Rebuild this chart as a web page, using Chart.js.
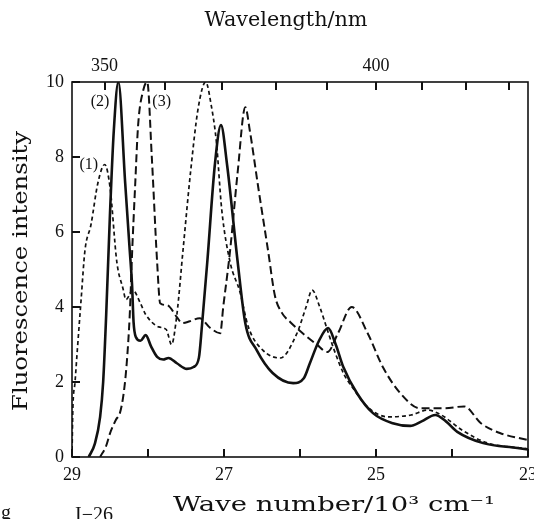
<!DOCTYPE html>
<html>
<head>
<meta charset="utf-8">
<script src="https://cdn.jsdelivr.net/npm/chart.js@4/dist/chart.umd.min.js"></script>
<style>
  body { margin: 0; background: #fff; }
  canvas { display: block; }
</style>
</head>
<body>
<canvas id="fluo" width="534" height="519"></canvas>
<script>
// wave numbers (10^3 cm^-1) and intensities
var wn1 = [29.0, 28.99, 28.96, 28.93, 28.88, 28.83, 28.75, 28.66, 28.57, 28.5, 28.41, 28.33, 28.29, 28.2, 28.1, 28.03, 27.86, 27.76, 27.69, 27.62, 27.54, 27.44, 27.34, 27.24, 27.17, 27.1, 27.03, 26.92, 26.79, 26.68, 26.49, 26.26, 26.04, 25.92, 25.84, 25.74, 25.64, 25.55, 25.42, 25.29, 25.11, 24.84, 24.54, 24.32, 24.14, 23.87, 23.53, 23.08, 23.0];
var int1 = [0, 1.2, 2.0, 2.85, 4.2, 5.5, 6.2, 7.3, 7.8, 7.2, 5.2, 4.5, 4.2, 4.45, 4.1, 3.8, 3.47, 3.4, 3.0, 3.8, 5.5, 7.6, 9.3, 10, 9.4, 8.4, 6.6, 5.2, 4.4, 3.47, 2.85, 2.64, 3.3, 4.0, 4.45, 4.0, 3.39, 2.85, 2.2, 1.8, 1.33, 1.07, 1.12, 1.25, 1.12, 0.72, 0.37, 0.24, 0.22];

var wn2 = [28.78, 28.7, 28.63, 28.59, 28.55, 28.5, 28.45, 28.39, 28.3, 28.24, 28.21, 28.19, 28.16, 28.1, 28.03, 27.96, 27.88, 27.8, 27.73, 27.62, 27.49, 27.4, 27.33, 27.29, 27.22, 27.12, 27.04, 26.96, 26.82, 26.72, 26.57, 26.36, 26.09, 25.95, 25.87, 25.75, 25.63, 25.53, 25.43, 25.25, 25.04, 24.78, 24.55, 24.4, 24.22, 24.08, 23.93, 23.59, 23.14, 23.0];
var int2 = [0, 0.35, 1.07, 2.0, 3.8, 6.5, 8.7, 10, 7.3, 5.5, 4.6, 3.6, 3.2, 3.1, 3.25, 2.95, 2.67, 2.6, 2.64, 2.5, 2.35, 2.4, 2.65, 3.5, 5.2, 7.8, 8.85, 7.8, 5.2, 3.57, 2.85, 2.24, 1.97, 2.1, 2.5, 3.1, 3.44, 3.0, 2.4, 1.7, 1.17, 0.9, 0.83, 0.95, 1.12, 0.95, 0.67, 0.37, 0.24, 0.2];

var wn3 = [28.63, 28.55, 28.5, 28.42, 28.37, 28.32, 28.28, 28.24, 28.21, 28.17, 28.13, 28.06, 28.01, 27.95, 27.88, 27.84, 27.75, 27.62, 27.55, 27.45, 27.32, 27.18, 27.05, 27.01, 26.92, 26.82, 26.72, 26.66, 26.55, 26.42, 26.33, 26.24, 26.13, 25.78, 25.64, 25.5, 25.32, 25.11, 24.91, 24.68, 24.42, 24.1, 23.84, 23.62, 23.37, 23.0];
var int3 = [0, 0.3, 0.63, 1.0, 1.17, 1.7, 2.5, 3.8, 5.4, 7.2, 8.85, 9.8, 10, 8.0, 5.2, 4.1, 4.05, 3.73, 3.57, 3.62, 3.7, 3.44, 3.3, 4.0, 5.5, 7.6, 9.33, 8.7, 7.2, 5.5, 4.3, 3.85, 3.6, 3.0, 2.8, 3.3, 4.0, 3.3, 2.4, 1.7, 1.3, 1.3, 1.35, 0.9, 0.64, 0.45];

// axis ticks
var xTicks = [29, 28, 27, 26, 25, 24, 23];
var xTickLabels = [29, 27, 25, 23];
var yTicks = [0, 2, 4, 6, 8, 10];
var wavelengthTicks = [350, 360, 370, 380, 390, 400, 410, 420, 430];
var wavelengthLabels = [350, 400];

// curve tags: [text, wave number, intensity]
var curveTags = [["(1)", 28.78, 7.8], ["(2)", 28.63, 9.47], ["(3)", 27.82, 9.47]];

function pts(xs, ys) {
    return xs.map(function (x, i) { return { x: x, y: ys[i] }; });
}

var serif = '"Liberation Serif", "Times New Roman", serif';
var wideSerif = '"DejaVu Serif", serif';
var tickFont = { family: serif, size: 18 };

// draw text at a given size, stretched sideways to the wanted width
function wideText(ctx, text, x, y, width, size, angle) {
    ctx.save();
    ctx.font = size + 'px ' + wideSerif;
    var sx = width / ctx.measureText(text).width;
    ctx.translate(x, y);
    ctx.rotate(angle || 0);
    ctx.scale(sx, 1);
    ctx.fillText(text, 0, 0);
    ctx.restore();
}

var decor = {
    id: 'decor',
    afterDraw: function (chart) {
        var ctx = chart.ctx, a = chart.chartArea, s = chart.scales;
        ctx.save();
        ctx.strokeStyle = '#111';
        ctx.lineWidth = 1.6;
        ctx.strokeRect(a.left, a.top, a.right - a.left, a.bottom - a.top);

        // inward tick marks
        ctx.lineWidth = 2;
        ctx.beginPath();
        xTicks.forEach(function (v) {
            var p = Math.round(s.x.getPixelForValue(v));
            ctx.moveTo(p, a.bottom); ctx.lineTo(p, a.bottom - 8);
        });
        wavelengthTicks.forEach(function (l) {
            var p = Math.round(s.x2.getPixelForValue(1e4 / l));
            ctx.moveTo(p, a.top); ctx.lineTo(p, a.top + 8);
        });
        yTicks.forEach(function (v) {
            var p = Math.round(s.y.getPixelForValue(v));
            ctx.moveTo(a.left, p); ctx.lineTo(a.left + 8, p);
        });
        ctx.stroke();

        ctx.fillStyle = '#111';
        ctx.textAlign = 'center';
        ctx.textBaseline = 'middle';

        // axis titles
        wideText(ctx, 'Wavelength/nm', 286, 21, 163, 20);
        wideText(ctx, 'Wave number/10\u00b3 cm\u207b\u00b9', 334, 506, 322, 21);
        wideText(ctx, 'Fluorescence intensity', 22, 271, 280, 20, -Math.PI / 2);

        // curve tags
        ctx.font = '16px ' + serif;
        curveTags.forEach(function (c) {
            ctx.fillText(c[0], s.x.getPixelForValue(c[1]), s.y.getPixelForValue(c[2]));
        });

        // cropped caption remnant
        ctx.font = '20px ' + serif;
        ctx.textAlign = 'left';
        ctx.textBaseline = 'alphabetic';
        ctx.fillText('g', 1, 519);
        ctx.fillText('I\u221226', 75, 521);
        ctx.restore();
    }
};

var ctx = document.getElementById('fluo').getContext('2d');
var chart = new Chart(ctx, {
    type: 'line',
    data: {
        datasets: [{
            label: '(1)',
            data: pts(wn1, int1),
            borderColor: '#111',
            borderWidth: 1.7,
            borderDash: [4, 3],
            pointRadius: 0,
            cubicInterpolationMode: 'monotone'
        }, {
            label: '(2)',
            data: pts(wn2, int2),
            borderColor: '#111',
            borderWidth: 2.6,
            pointRadius: 0,
            cubicInterpolationMode: 'monotone'
        }, {
            label: '(3)',
            data: pts(wn3, int3),
            borderColor: '#111',
            borderWidth: 2,
            borderDash: [8, 4],
            pointRadius: 0,
            cubicInterpolationMode: 'monotone'
        }]
    },
    options: {
        responsive: false,
        animation: false,
        devicePixelRatio: 1,
        layout: { padding: { left: 0, right: 6, top: 0, bottom: 0 } },
        plugins: { legend: { display: false }, tooltip: { enabled: false } },
        scales: {
            x: {
                type: 'linear',
                position: 'bottom',
                reverse: true,
                min: 23,
                max: 29,
                grid: { display: false, drawTicks: false },
                border: { display: false },
                ticks: {
                    stepSize: 1,
                    padding: 7,
                    color: '#111',
                    font: tickFont,
                    maxRotation: 0,
                    autoSkip: false,
                    callback: function (v) { return xTickLabels.indexOf(v) >= 0 ? String(v) : ''; }
                },
                afterFit: function (sc) { sc.height = 62; sc.paddingLeft = 0; sc.paddingRight = 0; }
            },
            x2: {
                type: 'linear',
                position: 'top',
                reverse: true,
                min: 23,
                max: 29,
                grid: { display: false, drawTicks: false },
                border: { display: false },
                afterBuildTicks: function (sc) {
                    sc.ticks = wavelengthTicks.map(function (l) { return { value: 1e4 / l }; });
                },
                ticks: {
                    padding: 5,
                    color: '#111',
                    font: tickFont,
                    maxRotation: 0,
                    autoSkip: false,
                    callback: function (v) {
                        var l = Math.round(1e4 / v);
                        return wavelengthLabels.indexOf(l) >= 0 ? String(l) : '';
                    }
                },
                afterFit: function (sc) { sc.height = 82; sc.paddingLeft = 0; sc.paddingRight = 0; }
            },
            y: {
                min: 0,
                max: 10,
                grid: { display: false, drawTicks: false },
                border: { display: false },
                afterBuildTicks: function (sc) {
                    sc.ticks = yTicks.map(function (v) { return { value: v }; });
                },
                ticks: {
                    padding: 8,
                    color: '#111',
                    font: tickFont
                },
                afterFit: function (sc) { sc.width = 72; }
            }
        }
    },
    plugins: [decor]
});
</script>
</body>
</html>
